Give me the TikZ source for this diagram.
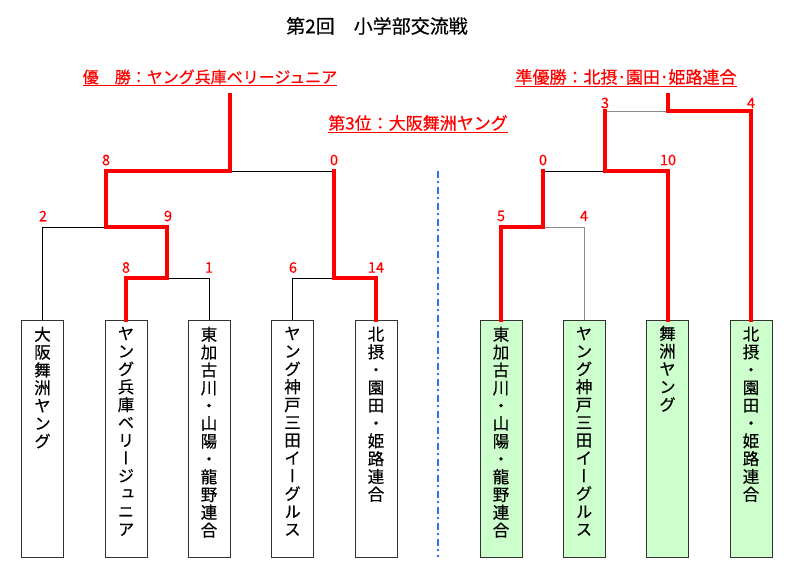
\documentclass[tikz,border=0pt]{standalone}
\usepackage{fontspec}
\setmainfont{Noto Sans CJK JP}
\newfontfamily\jpfont[FakeBold=0.5]{Noto Sans CJK JP}
\newfontfamily\numfont[FakeBold=0.3]{Noto Sans CJK JP}
\newfontfamily\vjpfont[RawFeature=+vert,FakeBold=0.4]{Noto Sans CJK JP}
\definecolor{winred}{HTML}{FF0000}
\definecolor{boxgreen}{HTML}{CCFFCC}
\definecolor{boxline}{HTML}{333333}
\definecolor{divblue}{HTML}{2F6BFF}
\definecolor{thingray}{HTML}{8C8C8C}
\tikzset{
  team/.style={draw=boxline, line width=0.9pt, minimum width=42pt, minimum height=237pt, inner sep=0pt},
  teamg/.style={team, fill=boxgreen},
  vtxt/.style={align=center, inner sep=0pt, anchor=north, font=\vjpfont\fontsize{16.5}{17.8}\selectfont},
  win/.style={draw=winred, line width=4pt, line join=miter, line cap=rect},
  lose/.style={draw=black, line width=0.9pt},
  loseg/.style={draw=thingray, line width=0.9pt},
  score/.style={text=winred, inner sep=0pt, font=\numfont\fontsize{14.5}{14.5}\selectfont},
  lbl/.style={text=winred, inner xsep=0pt, inner ysep=1.2pt},
  uline/.style={draw=winred, line width=1pt},
  divider/.style={draw=divblue, line width=2pt, dash pattern=on 7pt off 3pt on 2pt off 4pt}
}
\begin{document}
\begin{tikzpicture}[x=1pt,y=-1pt]
\useasboundingbox (0,0) rectangle (785,563);
% title
\node[inner sep=0pt, font=\jpfont\fontsize{19}{19}\selectfont] (title) at (377,26) {第2回　小学部交流戦};
% result labels
\node[lbl, font=\jpfont\fontsize{16}{16}\selectfont] (winner) at (210,77) {優　勝：ヤング兵庫ベリージュニア};
\draw[uline] (winner.south west) -- (winner.south east);
\node[lbl, font=\jpfont\fontsize{17}{17}\selectfont] (second) at (626,77) {準優勝：北摂･園田･姫路連合};
\draw[uline] (second.south west) -- (second.south east);
\node[lbl, font=\jpfont\fontsize{17}{17}\selectfont] (third) at (418,123) {第3位：大阪舞洲ヤング};
\draw[uline] (third.south west) -- (third.south east);
% team boxes (left)
\node[team] (L1) at (42.5,438.5) {};
\node[team] (L2) at (126,438.5) {};
\node[team] (L3) at (209,438.5) {};
\node[team] (L4) at (292.5,438.5) {};
\node[team] (L5) at (376,438.5) {};
% team boxes (right)
\node[teamg] (R1) at (501,438.5) {};
\node[teamg] (R2) at (584,438.5) {};
\node[teamg] (R3) at (667.5,438.5) {};
\node[teamg] (R4) at (751,438.5) {};
% team names
\node[vtxt] (L1t) at ([yshift=-7pt]L1.north) {大\\阪\\舞\\洲\\ヤ\\ン\\グ};
\node[vtxt] (L2t) at ([yshift=-7pt]L2.north) {ヤ\\ン\\グ\\兵\\庫\\ベ\\リ\\ー\\ジ\\ュ\\ニ\\ア};
\node[vtxt] (L3t) at ([yshift=-7pt]L3.north) {東\\加\\古\\川\\・\\山\\陽\\・\\龍\\野\\連\\合};
\node[vtxt] (L4t) at ([yshift=-7pt]L4.north) {ヤ\\ン\\グ\\神\\戸\\三\\田\\イ\\ー\\グ\\ル\\ス};
\node[vtxt] (L5t) at ([yshift=-7pt]L5.north) {北\\摂\\・\\園\\田\\・\\姫\\路\\連\\合};
\node[vtxt] (R1t) at ([yshift=-7pt]R1.north) {東\\加\\古\\川\\・\\山\\陽\\・\\龍\\野\\連\\合};
\node[vtxt] (R2t) at ([yshift=-7pt]R2.north) {ヤ\\ン\\グ\\神\\戸\\三\\田\\イ\\ー\\グ\\ル\\ス};
\node[vtxt] (R3t) at ([yshift=-6pt]R3.north) {舞\\洲\\ヤ\\ン\\グ};
\node[vtxt] (R4t) at ([yshift=-7pt]R4.north) {北\\摂\\・\\園\\田\\・\\姫\\路\\連\\合};
% bracket junctions
\coordinate (ja) at (167,278);
\coordinate (jb) at (334,278);
\coordinate (jc) at (106,227);
\coordinate (jd) at (230,171);
\coordinate (tl) at (230,95);
\coordinate (je) at (543,227);
\coordinate (jf) at (605,171);
\coordinate (jg) at (668,111);
\coordinate (tr) at (668,95);
% thin (losing) lines
\draw[lose] (L1.north) |- (jc);
\draw[lose] (L3.north) |- (ja);
\draw[lose] (L4.north) |- (jb);
\draw[lose] (jd) -- (jb |- jd);
\draw[loseg] (R2.north) |- (je);
\draw[lose] (je |- jf) -- (jf);
\draw[loseg] (jf |- jg) -- (jg);
% thick (winning) lines
\draw[win] (L2.north) |- (ja) |- (jc) |- (jd) -- (tl);
\draw[win] (L5.north) |- (jb) -- (jb |- jd);
\draw[win] (R1.north) |- (je) -- (je |- jf);
\draw[win] (R3.north) |- (jf) -- (jf |- jg);
\draw[win] (R4.north) |- (jg) -- (tr);
% scores
\node[score] (s1) at (106,160) {8};
\node[score] (s2) at (334,160) {0};
\node[score] (s3) at (43,216) {2};
\node[score] (s4) at (168,216) {9};
\node[score] (s5) at (126,267.5) {8};
\node[score] (s6) at (209,267.5) {1};
\node[score] (s7) at (293,267.5) {6};
\node[score] (s8) at (376,267.5) {14};
\node[score] (s9) at (605,103) {3};
\node[score] (s10) at (751,103) {4};
\node[score] (s11) at (543,160) {0};
\node[score] (s12) at (668,160) {10};
\node[score] (s13) at (501,216) {5};
\node[score] (s14) at (584,216) {4};
% divider
\coordinate (dtop) at (438,171);
\coordinate (dbot) at (438,557);
\draw[divider] (dtop) -- (dbot);
\end{tikzpicture}
\end{document}
